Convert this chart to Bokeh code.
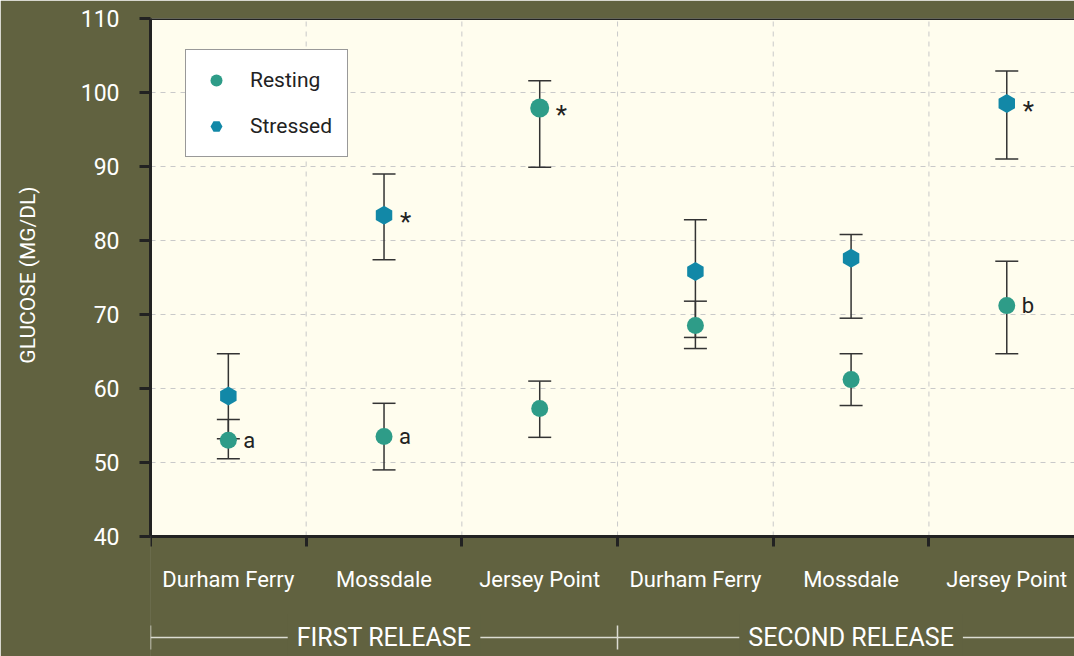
import numpy as np
from bokeh.plotting import figure
from bokeh.models import (FixedTicker, LinearAxis, Range1d, Whisker, TeeHead,
                          ColumnDataSource, Legend, LegendItem, Span, Label)
from bokeh.core.properties import value
from bokeh.embed import file_html
from bokeh.resources import INLINE

# ---------------- data ----------------
sites = ["Durham Ferry", "Mossdale", "Jersey Point",
         "Durham Ferry", "Mossdale", "Jersey Point"]
releases = ["FIRST RELEASE", "SECOND RELEASE"]
y_title = "GLUCOSE (MG/DL)"

resting_mean = [53.0, 53.5, 57.3, 68.5, 61.2, 71.2]
resting_upper = [55.8, 58.0, 61.0, 71.8, 64.7, 77.2]
resting_lower = [50.5, 49.0, 53.4, 65.4, 57.7, 64.7]

stressed_mean = [59.0, 83.4, 97.9, 75.8, 77.6, 98.5]
stressed_upper = [64.7, 89.0, 101.6, 82.8, 80.8, 102.9]
stressed_lower = [53.2, 77.4, 89.9, 66.9, 69.5, 91.0]
stressed_marker = ["hex", "hex", "circle", "hex", "hex", "hex"]

resting_note = ["a", "a", "", "", "", "b"]
stressed_note = ["", "*", "*", "", "", "*"]

y_ticks = [40, 50, 60, 70, 80, 90, 100, 110]

# ---------------- styling ----------------
OLIVE = "#616240"
CREAM = "#fffdee"
FONT = "Roboto"
REST_COLOR = "#2e9c88"
STRESS_COLOR = "#1288a7"
GRID = "#c9c9c9"
marker_color = {"hex": STRESS_COLOR, "circle": REST_COLOR}

Y_MIN, Y_MAX = y_ticks[0], y_ticks[-1]
PX_PER_UNIT = 7.4           # vertical scale of the chart
BOTTOM_PX = 120             # olive band under the plot area
X_END = 5.935               # plot is cut by the right edge of the page
Y_START = Y_MIN - BOTTOM_PX / PX_PER_UNIT
BRACKET_Y = Y_MIN - 101 / PX_PER_UNIT   # level of the release bracket

xs = [i + 0.5 for i in range(len(sites))]
bounds = list(range(len(sites) + 1))
group_centers = [1.5, 4.5]
group_bounds = [0, 3, 6]

p = figure(width=1074, height=656, output_backend="svg", toolbar_location=None,
           x_range=Range1d(0, X_END), y_range=Range1d(Y_START, Y_MAX),
           min_border_left=150, min_border_right=0, min_border_top=18,
           min_border_bottom=0)
p.background_fill_color = OLIVE
p.border_fill_color = OLIVE
p.outline_line_color = None
p.xgrid.visible = False
p.ygrid.visible = False

# olive band below and cream plotting area
p.quad(left=-1, right=X_END + 1, bottom=Y_START - 5, top=Y_MIN, fill_color=OLIVE,
       line_color=None, level="image")
p.quad(left=0, right=X_END, bottom=Y_MIN, top=Y_MAX, fill_color=CREAM,
       line_color=None, level="image")

# hide the seam between the frame and the left border under the plot area
p.add_layout(Span(location=0, dimension="height", line_color=OLIVE,
                  line_width=3, level="underlay"))

# grid lines restricted to the plotting area
inner = bounds[1:-1]
p.segment(x0=inner, x1=inner, y0=[Y_MIN] * len(inner), y1=[Y_MAX] * len(inner),
          line_color=GRID, line_dash="5 5", line_width=1, level="image")
hy = y_ticks[1:-1]
p.segment(x0=[0] * len(hy), x1=[X_END] * len(hy), y0=hy, y1=hy,
          line_color=GRID, line_dash="5 5", line_width=1, level="image")

# y axis
ya = p.yaxis[0]
ya.ticker = FixedTicker(ticks=y_ticks)
ya.bounds = (Y_MIN, Y_MAX)
ya.axis_line_color = "#222222"
ya.axis_line_width = 3
ya.major_tick_line_color = "#222222"
ya.major_tick_line_width = 3
ya.major_tick_out = 11
ya.major_tick_in = 0
ya.minor_tick_line_color = None
ya.major_label_text_color = "white"
ya.major_label_text_font = FONT
ya.major_label_text_font_size = "23px"
ya.major_label_standoff = 20
# the axis title is centred on the whole frame (which includes the olive band
# below the plot area); non-breaking spaces lift it to the plot area's middle
ya.axis_label = "\u00a0" * 24 + y_title
ya.axis_label_text_color = "white"
ya.axis_label_text_font = FONT
ya.axis_label_text_font_size = "21px"
ya.axis_label_text_font_style = "normal"
ya.axis_label_standoff = 38

# x axis (site labels + boundary ticks), drawn at the bottom of the plot area
xa = p.xaxis[0]
xa.fixed_location = Y_MIN
xa.ticker = FixedTicker(ticks=xs, minor_ticks=bounds)
xa.major_label_overrides = {x: s for x, s in zip(xs, sites)}
xa.axis_line_color = "#222222"
xa.axis_line_width = 3
xa.major_tick_line_color = None
xa.major_tick_out = 0
xa.major_tick_in = 0
xa.minor_tick_line_color = "#222222"
xa.minor_tick_line_width = 3
xa.minor_tick_out = 10
xa.minor_tick_in = 0
xa.major_label_text_color = "white"
xa.major_label_text_font = FONT
xa.major_label_text_font_size = "22px"
xa.major_label_standoff = 20

# bracket axis for the release groups
ba = LinearAxis(ticker=FixedTicker(ticks=group_bounds, minor_ticks=[]))
ba.fixed_location = BRACKET_Y
ba.axis_line_color = "#dcdcd2"
ba.axis_line_width = 1.5
ba.major_tick_line_color = "#dcdcd2"
ba.major_tick_line_width = 1.5
ba.major_tick_in = 12
ba.major_tick_out = 12
ba.minor_tick_line_color = None
ba.major_label_text_font_size = "1px"
ba.major_label_text_alpha = 0
p.add_layout(ba, "below")

for cx, txt in zip(group_centers, releases):
    kw = dict(x=cx, y=BRACKET_Y, text=txt, text_align="center",
              text_baseline="middle", text_font=FONT, text_font_size="25px",
              text_color="white", background_fill_color=OLIVE,
              background_fill_alpha=1)
    if "padding" in Label.properties():
        kw["padding"] = 9
    p.add_layout(Label(**kw))

# top border
p.add_layout(Span(location=Y_MAX, dimension="width", line_color="#222222",
                  line_width=3))

# error bars
rs = ColumnDataSource(dict(x=xs, y=resting_mean, up=resting_upper,
                           lo=resting_lower, note=resting_note))
ss = ColumnDataSource(dict(x=xs, y=stressed_mean, up=stressed_upper,
                           lo=stressed_lower, note=stressed_note,
                           marker=stressed_marker,
                           color=[marker_color[m] for m in stressed_marker]))
for src in (ss, rs):
    w = Whisker(source=src, base="x", upper="up", lower="lo",
                line_color="#333333", line_width=1.5, level="underlay",
                upper_head=TeeHead(size=23, line_color="#333333", line_width=1.5),
                lower_head=TeeHead(size=23, line_color="#333333", line_width=1.5))
    p.add_layout(w)

r_rest = p.scatter("x", "y", source=rs, marker="circle", size=17,
                   fill_color=REST_COLOR, line_color=None)
r_str = p.scatter("x", "y", source=ss, marker="marker", size=19,
                  angle=np.pi / 2, fill_color="color", line_color=None)

# letters / stars
p.text("x", "y", source=rs, text="note", x_offset=15, text_baseline="middle",
       text_font=value(FONT), text_font_size="22px", text_color="#222222")
p.text("x", "y", source=ss, text="note", x_offset=16, y_offset=7,
       text_baseline="middle", text_font=value(FONT), text_font_size="26px",
       text_color="#222222")

legend = Legend(items=[LegendItem(label="Resting", renderers=[r_rest]),
                       LegendItem(label="Stressed", renderers=[r_str])],
                location=(35, 656 - 157), margin=0, padding=15,
                spacing=16, glyph_width=30, glyph_height=30, label_height=30,
                label_standoff=19, label_text_font=FONT,
                label_text_font_size="21px", label_text_color="#222222",
                border_line_color="#333333", border_line_width=1,
                background_fill_color="white", background_fill_alpha=1)
p.add_layout(legend, "center")

open("out.html", "w").write(file_html(p, INLINE))
